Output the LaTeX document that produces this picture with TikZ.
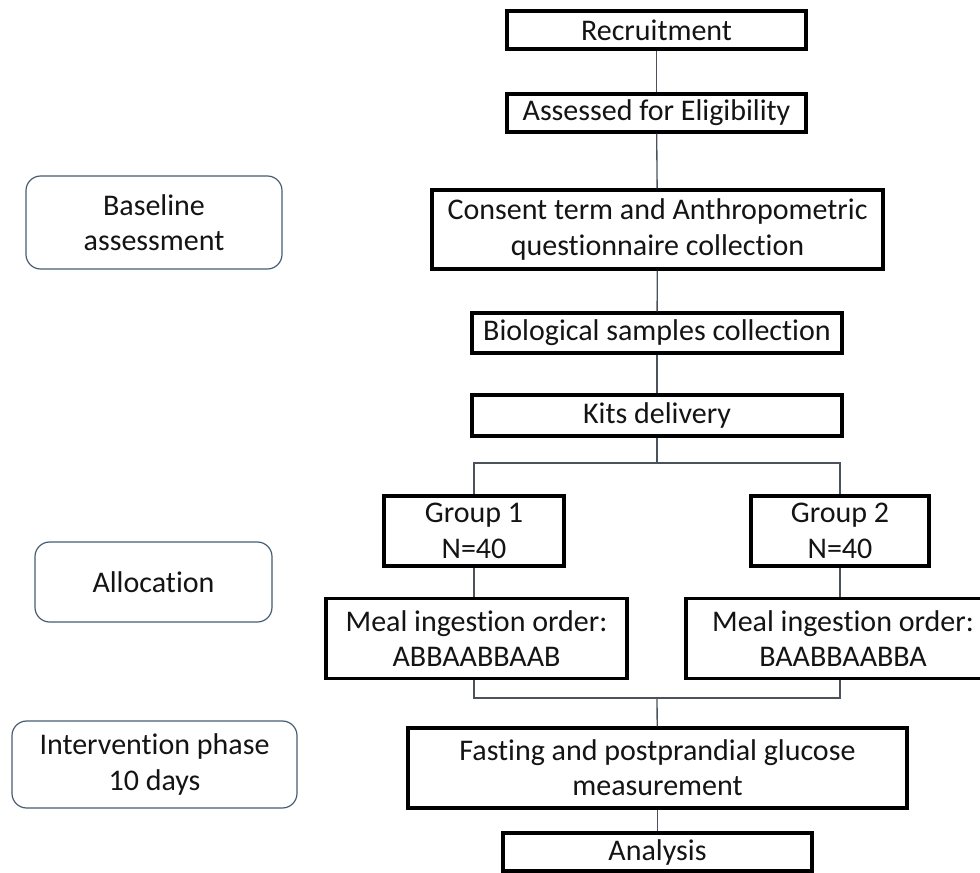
\documentclass[tikz,border=0pt]{standalone}
\usepackage{fontspec}
\setmainfont{Carlito}[Ligatures=NoCommon]
\definecolor{inkblack}{RGB}{20, 20, 20}
\definecolor{phaseedge}{RGB}{70, 92, 115}
\definecolor{linkgray}{RGB}{75, 82, 92}

\begin{document}
\begin{tikzpicture}[x=0.75pt, y=-0.75pt,
    every node/.style={font=\fontsize{22.5}{26.5}\selectfont, text=inkblack, align=center, inner sep=0pt},
    stepbox/.style={draw=black, line width=2.3pt, fill=white},
    phasebox/.style={draw=phaseedge, line width=0.9pt, rounded corners=11pt, fill=white},
    link/.style={draw=linkgray, line width=1pt}]
    \useasboundingbox (0,0) rectangle (980,873);
    % study flow
    \node[stepbox, minimum width=224.25pt, minimum height=28.5pt] (recruit)  at (656.5, 30)   {Recruitment};
    \node[stepbox, minimum width=224.25pt, minimum height=28.5pt] (assess)   at (656.5, 113)  {Assessed for Eligibility};
    \node[stepbox, minimum width=338.25pt, minimum height=59.25pt] (consent) at (657.5, 229.5) {Consent term and Anthropometric\\questionnaire collection};
    \node[stepbox, minimum width=277.5pt,  minimum height=30pt]   (bio)      at (657, 333)    {Biological samples collection};
    \node[stepbox, minimum width=277.5pt,  minimum height=30.75pt] (kits)    at (657, 415.5)  {Kits delivery};
    \node[stepbox, minimum width=135pt,    minimum height=52.5pt] (group1)   at (474, 531)    {Group 1\\N=40};
    \node[stepbox, minimum width=133.5pt,  minimum height=52.5pt] (group2)   at (840, 531)    {Group 2\\N=40};
    \node[stepbox, minimum width=225.75pt, minimum height=60pt]   (meal1)    at (476.5, 638.5) {Meal ingestion order:\\ABBAABBAAB};
    \node[stepbox, minimum width=235.5pt,  minimum height=60pt]   (meal2)    at (843, 638.5)  {Meal ingestion order:\\BAABBAABBA};
    \node[stepbox, minimum width=374.25pt, minimum height=60pt]   (glucose)  at (657.5, 768)  {Fasting and postprandial glucose\\measurement};
    \node[stepbox, minimum width=231.75pt, minimum height=28.5pt] (analysis) at (657.5, 852)  {Analysis};
    % phases
    \node[phasebox, minimum width=192pt,    minimum height=69.75pt] (baseline)     at (154, 222.5) {Baseline\\assessment};
    \node[phasebox, minimum width=177.75pt, minimum height=60pt]    (allocation)   at (153.5, 582) {Allocation};
    \node[phasebox, minimum width=213.75pt, minimum height=65.25pt] (intervention) at (154.5, 764.5) {Intervention phase\\10 days};
    % connectors
    \coordinate (split) at (657, 463);
    \coordinate (merge) at (657, 698);
    \draw[link] (recruit) -- (assess);
    \draw[link] (assess) -- (consent);
    \draw[link] (consent) -- (bio);
    \draw[link] (bio) -- (kits);
    \draw[link] (kits) -- (split);
    \draw[link] (group1.north) |- (split) -| (group2.north);
    \draw[link] (group1.south) -- (group1.south |- meal1.north);
    \draw[link] (group2.south) -- (group2.south |- meal2.north);
    \draw[link] (group1.south |- meal1.south) |- (merge) -| (group2.south |- meal2.south);
    \draw[link] (merge) -- (glucose);
    \draw[link] (glucose) -- (analysis);
\end{tikzpicture}
\end{document}
